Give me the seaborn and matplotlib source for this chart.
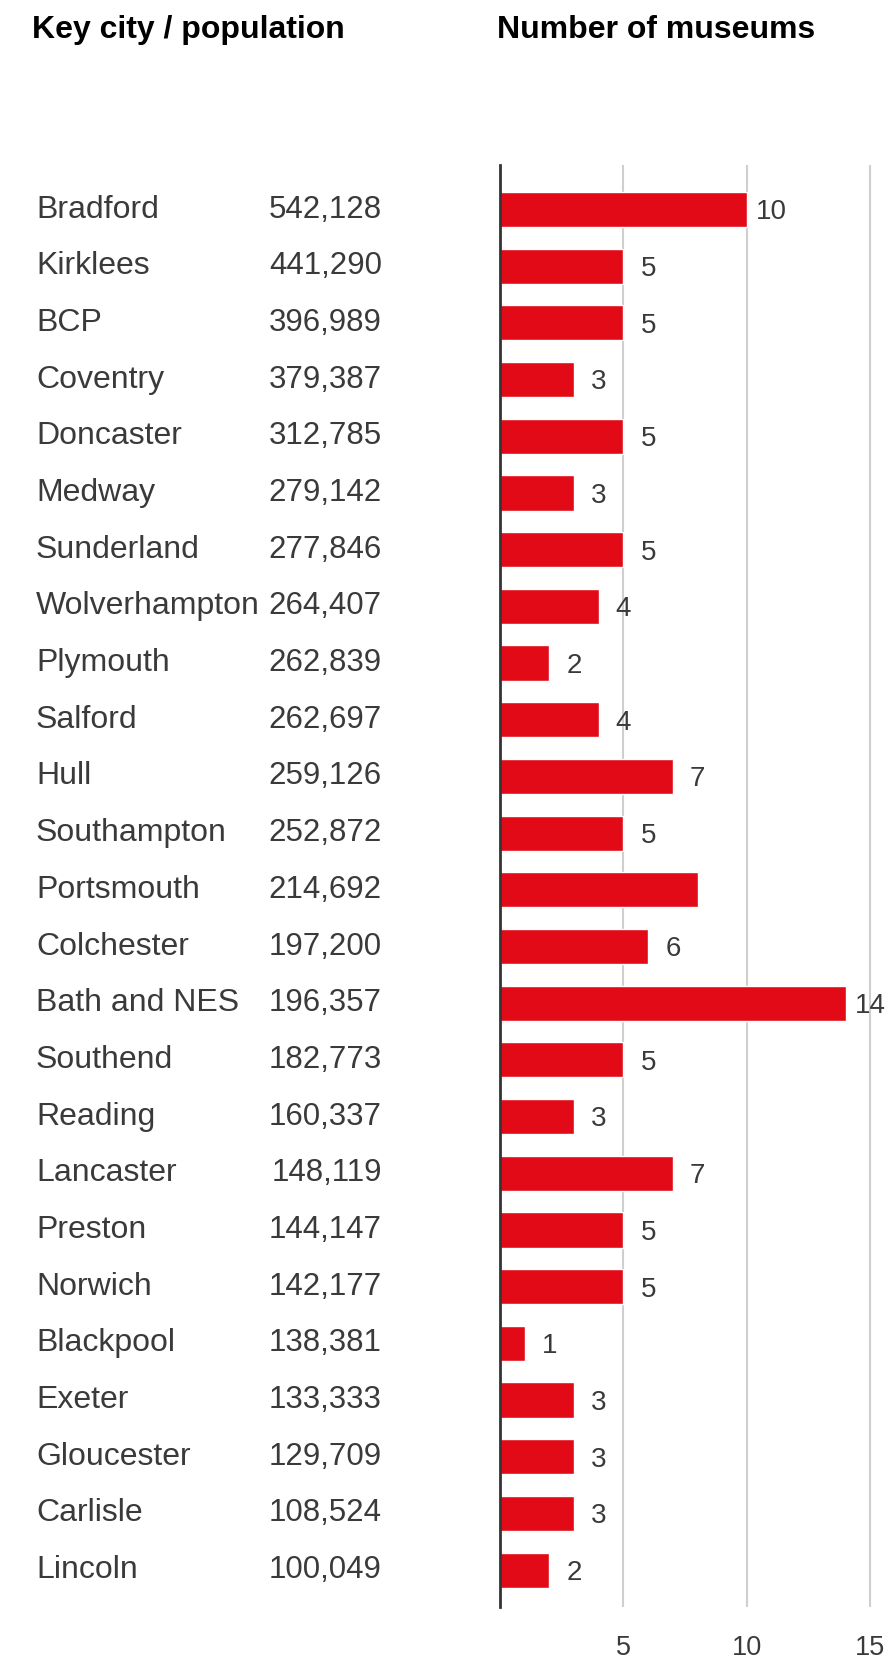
import matplotlib
matplotlib.use("Agg")
import matplotlib.pyplot as plt
import matplotlib.transforms as mtransforms
import pandas as pd
import seaborn as sns

cities = ["Bradford", "Kirklees", "BCP", "Coventry", "Doncaster", "Medway",
          "Sunderland", "Wolverhampton", "Plymouth", "Salford", "Hull",
          "Southampton", "Portsmouth", "Colchester", "Bath and NES", "Southend",
          "Reading", "Lancaster", "Preston", "Norwich", "Blackpool", "Exeter",
          "Gloucester", "Carlisle", "Lincoln"]
population = ["542,128", "441,290", "396,989", "379,387", "312,785", "279,142",
              "277,846", "264,407", "262,839", "262,697", "259,126", "252,872",
              "214,692", "197,200", "196,357", "182,773", "160,337", "148,119",
              "144,147", "142,177", "138,381", "133,333", "129,709", "108,524",
              "100,049"]
museums = [10, 5, 5, 3, 5, 3, 5, 4, 2, 4, 7, 5, 8, 6, 14, 5, 3, 7, 5, 5, 1, 3, 3, 3, 2]
# the source leaves Portsmouth's bar without a number
bar_labels = ["10", "5", "5", "3", "5", "3", "5", "4", "2", "4", "7", "5", "",
              "6", "14", "5", "3", "7", "5", "5", "1", "3", "3", "3", "2"]
x_ticks = [5, 10, 15]

df = pd.DataFrame({"city": cities, "population": population, "museums": museums})

sns.set_style("white")
plt.rcParams["font.family"] = ["Liberation Sans", "DejaVu Sans"]

RED = "#e20a16"
TXT = "#3a3a3a"

fig = plt.figure(figsize=(8.87, 16.64), dpi=100)
ax = fig.add_axes([500 / 887, 57 / 1664, 387 / 887, 1442 / 1664])

sns.barplot(data=df, y="city", x="museums", orient="h", color=RED,
            saturation=1, width=0.62, ax=ax)

ax.set_xlim(0, 387 / 24.7)
ax.set_ylim(24.65, -0.785)
ax.set_xticks(x_ticks)
ax.set_xticklabels([str(t) for t in x_ticks], fontsize=19.5, color=TXT)
ax.tick_params(axis="x", length=0, pad=20)
ax.set_yticks([])
ax.set_xlabel("")
ax.set_ylabel("")
ax.grid(axis="x", color="#cfcfcf", linewidth=1.5)
ax.set_axisbelow(True)
for s in ["top", "right", "bottom"]:
    ax.spines[s].set_visible(False)
ax.spines["left"].set_color("#333333")
ax.spines["left"].set_linewidth(2)
ax.spines["left"].set_zorder(5)

for i, (v, lab) in enumerate(zip(museums, bar_labels)):
    if lab:
        ax.text(v + 1.0, i + 0.05, lab, ha="center", va="center", fontsize=20, color=TXT)

# left-hand table: city names and population, aligned with the bars
trans = mtransforms.blended_transform_factory(fig.transFigure, ax.transData)
for i, (c, p) in enumerate(zip(cities, population)):
    ax.text(36 / 887, i, c, transform=trans, ha="left", va="center",
            fontsize=23, color=TXT, clip_on=False)
    ax.text(382 / 887, i, p, transform=trans, ha="right", va="center",
            fontsize=22.5, color=TXT, clip_on=False)

fig.text(32 / 887, 1 - 30 / 1664, "Key city / population", ha="left", va="center",
         fontsize=23, fontweight="bold", color="black")
fig.text(497 / 887, 1 - 30 / 1664, "Number of museums", ha="left", va="center",
         fontsize=23, fontweight="bold", color="black")

fig.savefig("out.png", dpi=100, facecolor="white")
